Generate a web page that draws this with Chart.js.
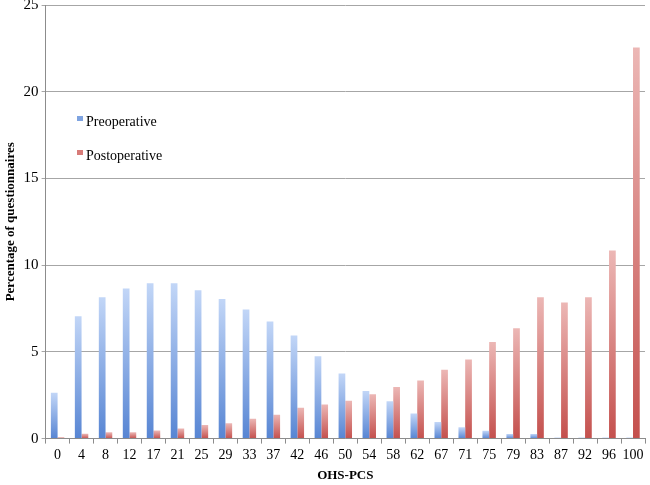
<!DOCTYPE html>
<html>
<head>
<meta charset="utf-8">
<script src="https://cdn.jsdelivr.net/npm/chart.js@4.4.1/dist/chart.umd.min.js"></script>
<style>
  html, body { margin: 0; padding: 0; background: #fff; }
  #wrap { width: 650px; height: 485px; }
</style>
</head>
<body>
<div id="wrap"><canvas id="chart" width="650" height="485"></canvas></div>
<script>
// OHS-PCS score categories
const scores = ['0', '4', '8', '12', '17', '21', '25', '29', '33', '37', '42', '46', '50',
    '54', '58', '62', '67', '71', '75', '79', '83', '87', '92', '96', '100'];

// Percentage of questionnaires
const preoperative = [2.65, 7.05, 8.15, 8.65, 8.95, 8.95, 8.55, 8.05, 7.45, 6.75, 5.95, 4.75, 3.75,
    2.75, 2.15, 1.45, 0.95, 0.65, 0.45, 0.27, 0.27, 0.06, 0.06, 0.06, 0.06];
const postoperative = [0.08, 0.28, 0.36, 0.36, 0.46, 0.58, 0.78, 0.88, 1.15, 1.38, 1.78, 1.97, 2.18,
    2.56, 2.97, 3.35, 3.97, 4.56, 5.57, 6.36, 8.15, 7.85, 8.15, 10.85, 22.55];

const yTicks = [0, 5, 10, 15, 20, 25];

const serif = "'Liberation Serif', 'Times New Roman', serif";

// Per-bar vertical gradient, light at the top, darker at the base
function barGradient(top, bottom) {
    return function(context) {
        const chart = context.chart;
        const yScale = chart.scales.y;
        if (!chart.chartArea || !yScale || context.parsed == null) return bottom;
        const yTop = yScale.getPixelForValue(context.parsed.y);
        const yBase = yScale.getPixelForValue(0);
        if (!isFinite(yTop) || !isFinite(yBase) || yBase - yTop < 1) return bottom;
        const g = chart.ctx.createLinearGradient(0, yTop, 0, yBase);
        g.addColorStop(0, top);
        g.addColorStop(1, bottom);
        return g;
    };
}

// Legend drawn inside the plot, near the upper left
const insideLegend = {
    id: 'insideLegend',
    afterDraw(chart) {
        const ctx = chart.ctx;
        const items = [
            { text: 'Preoperative', color: '#7ea3e0' },
            { text: 'Postoperative', color: '#d77b78' }
        ];
        ctx.save();
        ctx.font = '14px ' + serif;
        ctx.textBaseline = 'middle';
        items.forEach((item, i) => {
            const y = 121 + i * 34;
            ctx.fillStyle = item.color;
            ctx.fillRect(77, y - 5, 6, 5);
            ctx.fillStyle = '#000';
            ctx.fillText(item.text, 86, y + 1);
        });
        ctx.restore();
    }
};

new Chart(document.getElementById('chart').getContext('2d'), {
    type: 'bar',
    data: {
        labels: scores,
        datasets: [{
            label: 'Preoperative',
            data: preoperative,
            backgroundColor: barGradient('#c2d6f7', '#5785d3'),
            borderWidth: 0,
            categoryPercentage: 0.56,
            barPercentage: 1.0
        }, {
            label: 'Postoperative',
            data: postoperative,
            backgroundColor: barGradient('#ecb7b5', '#c4504d'),
            borderWidth: 0,
            categoryPercentage: 0.56,
            barPercentage: 1.0
        }]
    },
    options: {
        responsive: false,
        animation: false,
        layout: { padding: { top: 5, right: 5, bottom: 2, left: 3 } },
        plugins: {
            legend: { display: false },
            tooltip: { enabled: false }
        },
        scales: {
            x: {
                offset: true,
                grid: {
                    display: true,
                    drawOnChartArea: false,
                    drawTicks: true,
                    tickLength: 5,
                    color: '#8c8c8c',
                    offset: true
                },
                border: { color: '#8c8c8c' },
                ticks: {
                    color: '#000',
                    font: { family: serif, size: 14 },
                    maxRotation: 0,
                    autoSkip: false,
                    padding: 3
                },
                title: {
                    display: true,
                    text: 'OHS-PCS',
                    color: '#000',
                    font: { family: serif, size: 13, weight: 'bold' },
                    padding: { top: 1, bottom: 0 }
                }
            },
            y: {
                min: 0,
                max: 25,
                afterBuildTicks(axis) {
                    axis.ticks = yTicks.map(v => ({ value: v }));
                },
                afterFit(axis) {
                    // let the top label overhang the page edge a little, like the original
                    axis.paddingTop = 0;
                },
                grid: {
                    color: '#a6a6a6',
                    tickLength: 4,
                    lineWidth: 1
                },
                border: { color: '#8c8c8c' },
                ticks: {
                    color: '#000',
                    font: { family: serif, size: 15, lineHeight: 1.0 },
                    padding: 3
                },
                title: {
                    display: true,
                    text: 'Percentage of questionnaires',
                    color: '#000',
                    font: { family: serif, size: 13, weight: 'bold' },
                    padding: { top: 0, bottom: 2 }
                }
            }
        }
    },
    plugins: [insideLegend]
});
</script>
</body>
</html>
